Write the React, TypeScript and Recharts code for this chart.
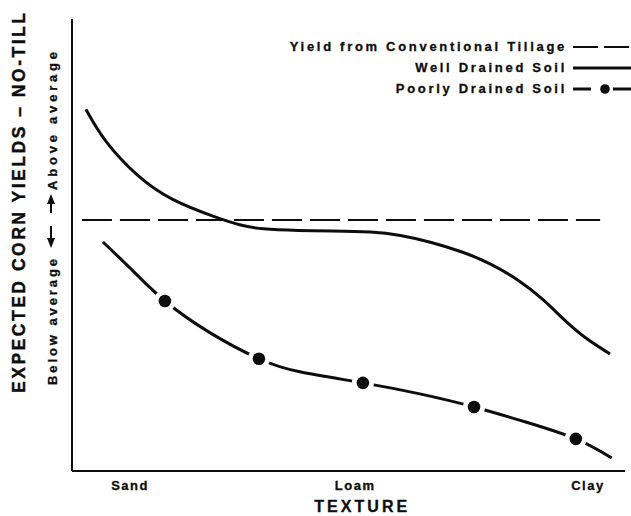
import {
  ComposedChart,
  Line,
  Scatter,
  XAxis,
  YAxis,
  ReferenceLine,
  Legend,
} from 'recharts'

// texture position along the x axis (0 = coarsest, 100 = finest)
const TEXTURE_LABELS = ['Sand', 'Loam', 'Clay']
const TEXTURE_TICKS = [10.5, 51.2, 93.3]

// relative yield vs. conventional tillage (0 = same yield)
const WELL_X = [2.5, 5.6, 11.8, 17.7, 26.2, 30.4, 34.0, 41.2, 46.7, 54.4, 59.3, 64.7, 70.7, 75.6, 80.5, 85.2, 88.8, 92.4, 97.3]
const WELL_Y = [4.41, 3.18, 1.71, 0.79, 0.08, -0.22, -0.37, -0.43, -0.44, -0.47, -0.6, -0.87, -1.27, -1.72, -2.35, -3.15, -3.95, -4.66, -5.34]

const POOR_X = [5.6, 11.2, 16.8, 25.0, 33.8, 41.2, 52.6, 62.9, 72.7, 81.9, 91.1, 97.6]
const POOR_Y = [-0.88, -2.07, -3.23, -4.5, -5.53, -6.05, -6.49, -6.93, -7.45, -8.04, -8.72, -9.48]

const MARKER_X = [16.8, 33.8, 52.6, 72.7, 91.1]
const MARKER_Y = [-3.23, -5.53, -6.49, -7.45, -8.72]

const CONVENTIONAL_FROM = 1.8
const CONVENTIONAL_TO = 95.5

const SERIES_NAMES = ['Yield from Conventional Tillage', 'Well Drained Soil', 'Poorly Drained Soil']

const wellData = WELL_X.map((x, i) => ({ x, y: WELL_Y[i] }))
const poorData = POOR_X.map((x, i) => ({ x, y: POOR_Y[i] }))
const markerData = MARKER_X.map((x, i) => ({ x, y: MARKER_Y[i] }))

const FONT = '"Liberation Sans", Arial, Helvetica, sans-serif'
const INK = '#0d0d0d'

function MarkerDot(props: any) {
  const { cx, cy } = props
  return (
    <g>
      <circle cx={cx} cy={cy} r={11} fill="#fff" />
      <circle cx={cx} cy={cy} r={6.3} fill={INK} />
    </g>
  )
}

function YTitle() {
  return (
    <g fontFamily={FONT} fontWeight="bold" fill={INK}>
      <text
        transform="translate(25,203) rotate(-90)"
        textAnchor="middle"
        fontSize={17.5}
        textLength={380}
        lengthAdjust="spacing"
        stroke={INK}
        strokeWidth={0.4}
      >
        EXPECTED CORN YIELDS – NO-TILL
      </text>
      <text
        transform="translate(56.5,121) rotate(-90)"
        textAnchor="middle"
        fontSize={13}
        textLength={138}
        lengthAdjust="spacing"
        stroke={INK}
        strokeWidth={0.3}
      >
        Above  average
      </text>
      <text
        transform="translate(56.5,322) rotate(-90)"
        textAnchor="middle"
        fontSize={13}
        textLength={126}
        lengthAdjust="spacing"
        stroke={INK}
        strokeWidth={0.3}
      >
        Below  average
      </text>
      {/* up / down arrows between the two halves */}
      <line x1={51} y1={213} x2={51} y2={201} stroke={INK} strokeWidth={2} />
      <path d="M51,194 L47,204 L55,204 Z" fill={INK} />
      <line x1={51} y1={226} x2={51} y2={240} stroke={INK} strokeWidth={2} />
      <path d="M51,248 L47,238 L55,238 Z" fill={INK} />
    </g>
  )
}

function XTitle(props: any) {
  const vb = props.viewBox || { x: 72, y: 471, width: 553 }
  return (
    <text
      x={vb.x + vb.width * 0.522}
      y={512}
      textAnchor="middle"
      fontFamily={FONT}
      fontWeight="bold"
      fontSize={16}
      fill={INK}
      stroke={INK}
      strokeWidth={0.3}
      textLength={93}
      lengthAdjust="spacing"
    >
      TEXTURE
    </text>
  )
}

function Swatch({ kind }: { kind: number }) {
  if (kind === 0) {
    return (
      <svg width={58} height={10}>
        <line x1={0} y1={5} x2={58} y2={5} stroke={INK} strokeWidth={2} strokeDasharray="25 6" />
      </svg>
    )
  }
  if (kind === 1) {
    return (
      <svg width={58} height={10}>
        <line x1={0} y1={5} x2={58} y2={5} stroke={INK} strokeWidth={3} />
      </svg>
    )
  }
  return (
    <svg width={58} height={10}>
      <line x1={0} y1={5} x2={18} y2={5} stroke={INK} strokeWidth={3} />
      <circle cx={32} cy={5} r={4.8} fill={INK} />
      <line x1={40} y1={5} x2={58} y2={5} stroke={INK} strokeWidth={3} />
    </svg>
  )
}

function LegendBox() {
  return (
    <div style={{ fontFamily: FONT, fontWeight: 'bold', fontSize: 13, color: INK }}>
      {SERIES_NAMES.map((name, i) => (
        <div
          key={name}
          style={{
            display: 'flex',
            justifyContent: 'flex-end',
            alignItems: 'center',
            height: 21,
            letterSpacing: 2.7,
          }}
        >
          <span style={{ WebkitTextStroke: '0.3px ' + INK }}>{name}</span>
          <span style={{ marginLeft: 6, display: 'flex' }}>
            <Swatch kind={i} />
          </span>
        </div>
      ))}
    </div>
  )
}

export default function App() {
  return (
    <div style={{ position: 'fixed', left: 0, top: 0, background: '#fff' }}>
      <ComposedChart width={631} height={516} margin={{ top: 19, right: 6, left: 0, bottom: 0 }}>
        <XAxis
          type="number"
          dataKey="x"
          domain={[0, 100]}
          ticks={TEXTURE_TICKS}
          tickFormatter={(v: number) => TEXTURE_LABELS[TEXTURE_TICKS.indexOf(v)] ?? ''}
          tick={{
            fill: INK,
            fontSize: 13,
            fontWeight: 'bold',
            fontFamily: FONT,
            letterSpacing: 1.5,
            stroke: INK,
            strokeWidth: 0.3,
          }}
          tickLine={false}
          tickMargin={4}
          axisLine={{ stroke: INK, strokeWidth: 2 }}
          height={45}
          label={<XTitle />}
        />
        <YAxis
          type="number"
          dataKey="y"
          domain={[-10, 8]}
          ticks={[0]}
          tick={false}
          tickSize={9}
          tickLine={{ stroke: INK, strokeWidth: 2 }}
          axisLine={{ stroke: INK, strokeWidth: 2 }}
          width={72}
          label={<YTitle />}
        />
        <ReferenceLine
          segment={[
            { x: CONVENTIONAL_FROM, y: 0 },
            { x: CONVENTIONAL_TO, y: 0 },
          ]}
          stroke={INK}
          strokeWidth={2}
          strokeDasharray="30 8"
        />
        <Line
          data={wellData}
          dataKey="y"
          type="basis"
          stroke={INK}
          strokeWidth={3}
          dot={false}
          isAnimationActive={false}
        />
        <Line
          data={poorData}
          dataKey="y"
          type="natural"
          stroke={INK}
          strokeWidth={3}
          dot={false}
          isAnimationActive={false}
        />
        <Scatter data={markerData} dataKey="y" shape={<MarkerDot />} isAnimationActive={false} />
        <Legend
          layout="vertical"
          verticalAlign="middle"
          align="center"
          content={<LegendBox />}
          wrapperStyle={{ top: 36, left: 200, width: 431, height: 66 }}
        />
      </ComposedChart>
    </div>
  )
}
